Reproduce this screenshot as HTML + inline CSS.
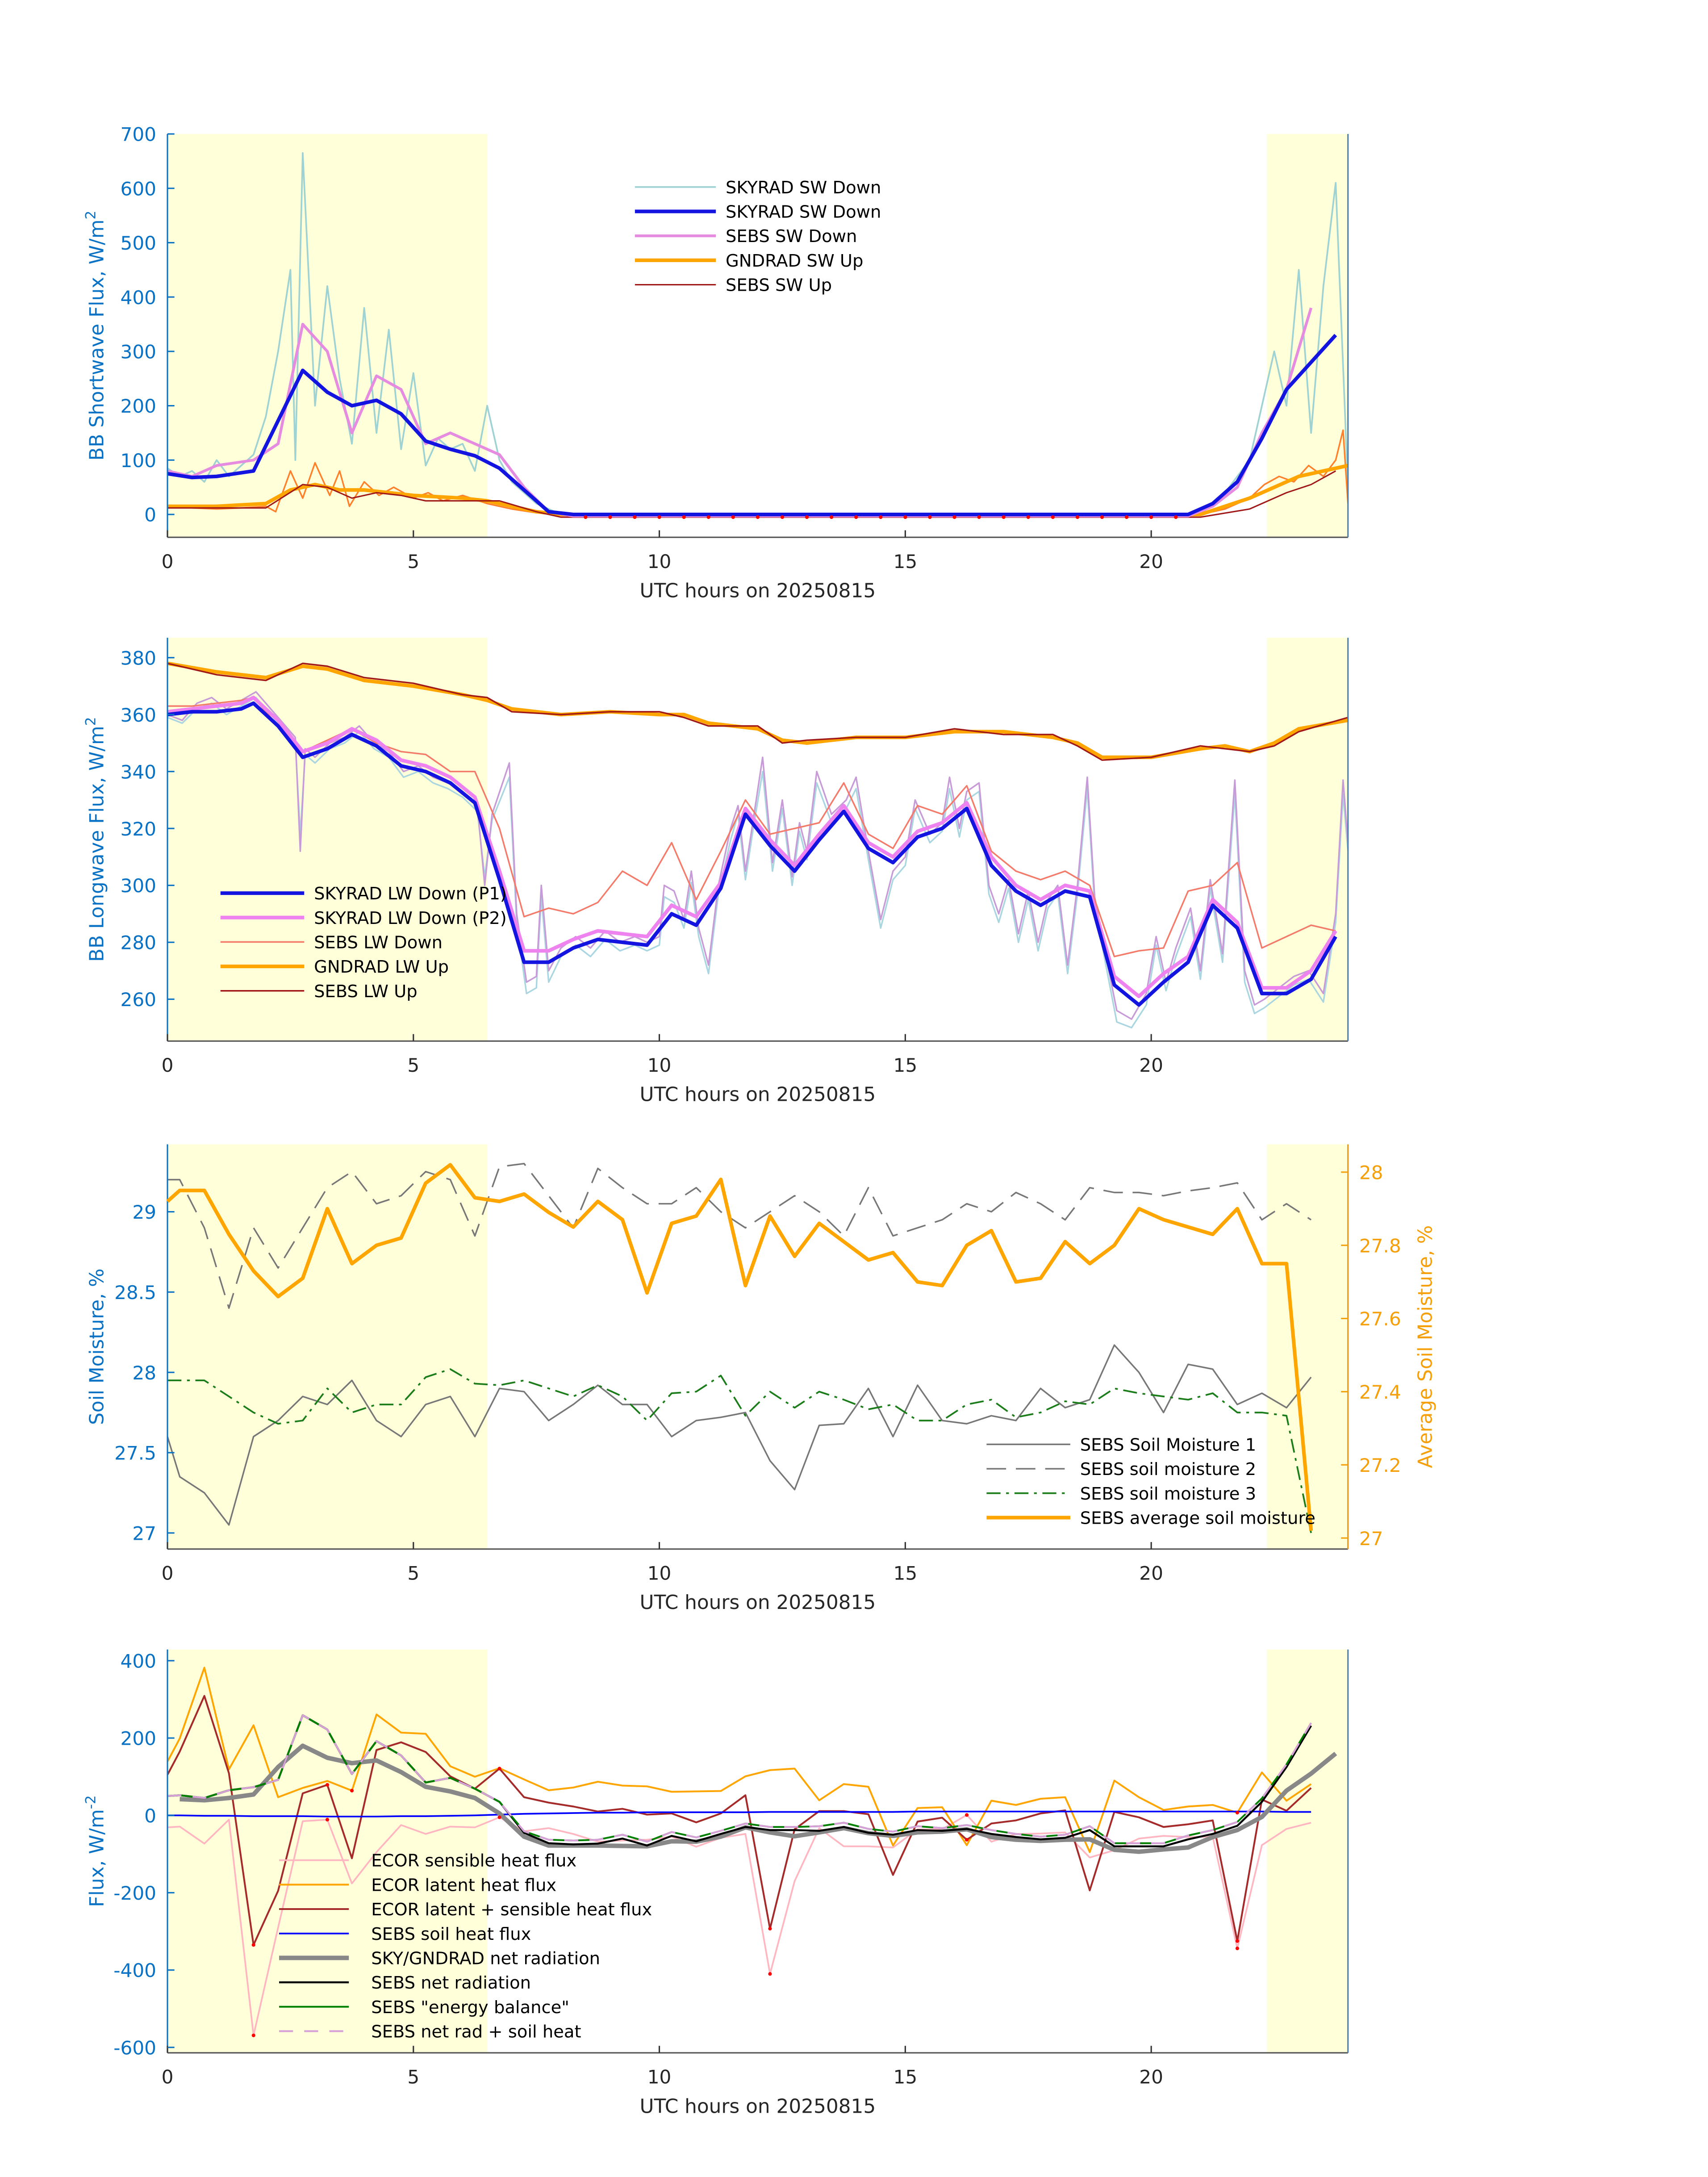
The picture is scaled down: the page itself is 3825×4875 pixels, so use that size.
<!DOCTYPE html>
<html><head><meta charset="utf-8"><style>
html,body{margin:0;padding:0;background:#fff;}
svg{display:block;font-family:"DejaVu Sans","Liberation Sans",sans-serif;}
</style></head><body>
<svg id="fig" width="3825" height="4875" viewBox="0 0 1224 1560" xmlns="http://www.w3.org/2000/svg"></svg>
<script>
// ---------- Panel 1 data (shortwave) ----------
const swLightT=[0,0.25,0.5,0.75,1,1.25,1.5,1.75,2,2.25,2.5,2.6,2.75,3,3.25,3.5,3.75,4,4.25,4.5,4.75,5,5.25,5.5,5.75,6,6.25,6.5,6.75,7,7.5,8,10,15,20,21,21.5,22,22.5,22.75,23,23.25,23.5,23.75,24];
const swLightV=[85,70,80,60,100,70,90,110,180,300,450,100,665,200,420,250,130,380,150,340,120,260,90,140,120,130,80,200,100,60,20,0,0,0,0,0,40,100,300,200,450,150,420,610,50];
const swBlueT=[0,0.5,1,1.75,2.75,3.25,3.75,4.25,4.75,5.25,5.75,6.25,6.75,7.25,7.75,8.25,10,15,20,20.75,21.25,21.75,22.25,22.75,23.25,23.75];
const swBlueV=[75,68,70,80,265,225,200,210,185,135,120,108,85,45,5,0,0,0,0,0,20,60,140,230,280,330];
const swPinkT=[0,0.5,1,1.75,2.25,2.75,3.25,3.75,4.25,4.75,5.25,5.75,6.25,6.75,7.25,7.75,8.25,10,15,20,20.75,21.25,21.75,22.25,22.75,23.25];
const swPinkV=[80,70,90,100,130,350,300,150,255,230,130,150,130,110,50,5,-3,-3,-3,-3,-3,15,50,150,230,380];
const swUpT=[0,1,2,2.5,3,3.5,4,5,6,6.5,7,7.5,8,10,15,20,21,22,23,24];
const swUpV=[15,15,20,45,55,45,45,35,30,25,15,5,0,0,0,0,0,30,70,90];
const swSebsUpT=[0,1,2,2.75,3.25,3.75,4.25,4.75,5.25,6,6.75,7.5,8,10,15,20,21,22,22.75,23.25,23.75];
const swSebsUpV=[12,12,12,55,50,30,40,35,25,25,25,5,-5,-5,-5,-5,-5,10,40,55,80];
const swNoisyT=[0,0.5,1,1.5,2,2.2,2.5,2.75,3,3.3,3.5,3.7,4,4.3,4.6,5,5.3,5.6,6,6.5,7,7.5,8,21,21.5,22,22.3,22.6,22.9,23.2,23.5,23.75,23.9,24];
const swNoisyV=[15,12,10,12,15,5,80,30,95,35,80,15,60,35,50,30,40,25,35,20,10,3,0,0,10,30,55,70,60,90,70,100,155,20];
// ---------- Panel 2 data (longwave) ----------
const lwT=[0,0.5,1,1.5,1.75,2.25,2.75,3.25,3.75,4.25,4.75,5.25,5.75,6.25,6.75,7.25,7.75,8.25,8.75,9.25,9.75,10.25,10.75,11.25,11.75,12.25,12.75,13.25,13.75,14.25,14.75,15.25,15.75,16.25,16.75,17.25,17.75,18.25,18.75,19.25,19.75,20.25,20.75,21.25,21.75,22.25,22.75,23.25,23.75];
const lwP1=[360,361,361,362,364,356,345,348,353,349,342,340,336,329,302,273,273,278,281,280,279,290,286,299,325,314,305,316,326,313,308,317,320,327,307,298,293,298,296,265,258,266,273,293,285,262,262,267,282];
const lwP2=[361,362,363,364,366,358,347,350,355,351,344,342,338,331,305,277,277,281,284,283,282,293,289,301,327,316,307,318,328,315,310,319,322,329,310,300,295,300,298,268,261,269,275,295,287,264,264,270,284];
const lwSebsDn=[363,363,364,365,366,356,347,351,355,350,347,346,340,340,320,289,292,290,294,305,300,315,295,312,330,318,320,322,336,318,313,328,325,335,312,305,302,305,300,275,277,278,298,300,308,278,282,286,284];
const lwUpT=[0,1,2,2.75,3.25,4,5,6,6.5,7,8,9,10,10.5,11,12,12.5,13,14,15,16,17,18,18.5,19,20,21,21.5,22,22.5,23,24];
const lwUpV=[378,375,373,377,376,372,370,367,365,362,360,361,360,360,357,355,351,350,352,352,354,354,352,350,345,345,348,349,347,350,355,358];
const lwSebsUpV=[378,374,372,378,377,373,371,367,366,361,360,361,361,359,356,356,350,351,352,352,355,353,353,349,344,345,349,348,347,349,354,359];
const lwNoisyT=[0,0.3,0.6,0.9,1.2,1.5,1.8,2.1,2.4,2.6,2.7,2.8,3,3.3,3.6,3.9,4.2,4.5,4.8,5.1,5.4,5.7,6,6.3,6.45,6.6,6.95,7.1,7.3,7.5,7.6,7.75,8,8.3,8.6,8.9,9.2,9.5,9.75,10,10.1,10.3,10.5,10.65,10.8,11,11.2,11.45,11.6,11.75,11.9,12.1,12.3,12.5,12.7,12.85,13,13.2,13.5,13.8,14,14.25,14.5,14.75,15,15.2,15.5,15.75,15.9,16.1,16.25,16.5,16.7,16.9,17.1,17.3,17.5,17.7,17.9,18.1,18.3,18.5,18.7,18.85,19,19.3,19.6,19.9,20.1,20.3,20.5,20.8,21,21.2,21.45,21.7,21.9,22.1,22.3,22.6,22.9,23.2,23.5,23.75,23.9,24];
const lwNoisyP=[360,358,364,366,362,365,368,362,356,352,312,348,345,350,352,356,350,347,340,342,338,336,333,328,300,325,343,290,266,268,300,270,278,282,278,284,280,282,280,282,300,298,288,305,285,272,300,320,328,305,322,345,308,330,303,322,312,340,325,330,338,312,288,305,310,330,318,322,338,320,333,336,300,290,302,283,298,280,295,300,272,300,338,296,282,256,253,262,282,266,278,292,270,302,276,337,270,258,260,264,268,270,262,290,337,315];
const lwNoisyB=[359,357,362,364,360,363,366,360,354,350,318,346,343,348,350,354,348,345,338,340,336,334,331,326,303,323,338,287,262,264,296,266,275,279,275,281,277,279,277,279,296,294,285,301,282,269,297,316,325,302,319,340,305,327,300,319,309,336,322,327,334,309,285,302,307,327,315,319,334,317,330,333,297,287,299,280,295,277,292,297,269,297,334,293,279,252,250,258,279,263,275,289,267,299,273,332,266,255,257,261,265,267,259,287,332,312];
// ---------- Panel 3 data (soil moisture) ----------
const smT=[0,0.25,0.75,1.25,1.75,2.25,2.75,3.25,3.75,4.25,4.75,5.25,5.75,6.25,6.75,7.25,7.75,8.25,8.75,9.25,9.75,10.25,10.75,11.25,11.75,12.25,12.75,13.25,13.75,14.25,14.75,15.25,15.75,16.25,16.75,17.25,17.75,18.25,18.75,19.25,19.75,20.25,20.75,21.25,21.75,22.25,22.75,23.25];
const sm1=[27.6,27.35,27.25,27.05,27.6,27.7,27.85,27.8,27.95,27.7,27.6,27.8,27.85,27.6,27.9,27.88,27.7,27.8,27.92,27.8,27.8,27.6,27.7,27.72,27.75,27.45,27.27,27.67,27.68,27.9,27.6,27.92,27.7,27.68,27.73,27.7,27.9,27.78,27.83,28.17,28.0,27.75,28.05,28.02,27.8,27.87,27.78,27.97];
const sm2=[29.2,29.2,28.9,28.4,28.9,28.65,28.9,29.15,29.25,29.05,29.1,29.25,29.2,28.85,29.28,29.3,29.1,28.9,29.27,29.15,29.05,29.05,29.15,29.0,28.9,29.0,29.1,29.0,28.85,29.15,28.85,28.9,28.95,29.05,29.0,29.12,29.05,28.95,29.15,29.12,29.12,29.1,29.13,29.15,29.18,28.95,29.05,28.95];
const sm3=[27.95,27.95,27.95,27.85,27.75,27.68,27.7,27.9,27.75,27.8,27.8,27.97,28.02,27.93,27.92,27.95,27.9,27.85,27.92,27.85,27.7,27.87,27.88,27.98,27.73,27.88,27.78,27.88,27.83,27.77,27.8,27.7,27.7,27.8,27.83,27.72,27.75,27.82,27.8,27.9,27.87,27.85,27.83,27.87,27.75,27.75,27.73,27.0];
const smAvg=[27.92,27.95,27.95,27.83,27.73,27.66,27.71,27.9,27.75,27.8,27.82,27.97,28.02,27.93,27.92,27.94,27.89,27.85,27.92,27.87,27.67,27.86,27.88,27.98,27.69,27.88,27.77,27.86,27.81,27.76,27.78,27.7,27.69,27.8,27.84,27.7,27.71,27.81,27.75,27.8,27.9,27.87,27.85,27.83,27.9,27.75,27.75,27.02];
// ---------- Panel 4 data (fluxes) ----------
const fxT=[0,0.25,0.75,1.25,1.75,2.25,2.75,3.25,3.75,4.25,4.75,5.25,5.75,6.25,6.75,7.25,7.75,8.25,8.75,9.25,9.75,10.25,10.75,11.25,11.75,12.25,12.75,13.25,13.75,14.25,14.75,15.25,15.75,16.25,16.75,17.25,17.75,18.25,18.75,19.25,19.75,20.25,20.75,21.25,21.75,22.25,22.75,23.25];
const fxLatent=[139,199,382,119,233,47,71,89,64,261,214,211,127,100,122,93,65,72,87,77,75,61,62,63,101,117,121,39,81,74,-78,19,21,-77,38,27,43,47,-95,90,47,14,23,27,7,111,38,81];
const fxSum=[105,165,309,109,-335,-195,57,79,-111,169,189,164,101,69,121,47,33,23,10,17,2,5,-18,5,52,-293,-36,11,11,3,-154,-16,-6,-63,-21,-13,5,13,-194,9,-5,-30,-23,-13,-325,41,12,71];
const fxSensible=[-31,-29,-73,-11,-569,-290,-15,-11,-176,-95,-25,-48,-29,-31,-5,-41,-33,-48,-68,-65,-63,-55,-81,-58,-48,-410,-170,-33,-80,-80,-83,-36,-36,1,-68,-48,-47,-44,-109,-90,-60,-53,-56,-55,-344,-77,-35,-19];
const fxSoil=[0,0,-1,-1,-2,-2,-2,-3,-3,-3,-2,-2,-1,0,2,4,5,6,7,7,8,8,8,8,8,9,9,9,9,9,9,10,10,10,10,10,10,10,10,10,10,10,10,10,10,10,9,9];
const fxEnergy=[50,52,45,65,73,92,259,222,107,192,155,85,97,69,35,-41,-63,-65,-63,-50,-68,-43,-57,-40,-21,-30,-30,-28,-19,-35,-42,-28,-33,-25,-38,-48,-55,-50,-28,-72,-72,-72,-52,-38,-17,44,132,239];
const fxNetRad=[50,52,45,65,73,92,259,222,107,192,155,85,97,69,35,-45,-72,-75,-73,-60,-78,-53,-67,-48,-30,-38,-38,-40,-30,-45,-50,-38,-40,-35,-48,-56,-62,-58,-38,-80,-80,-80,-62,-48,-27,35,125,232];
const fxNetSoil=[50,52,45,65,73,92,259,222,107,192,155,85,97,69,35,-41,-63,-65,-63,-50,-68,-43,-57,-40,-21,-30,-30,-28,-19,-35,-42,-28,-33,-25,-38,-48,-55,-50,-28,-72,-72,-72,-52,-38,-17,44,132,239];
const fxGrayT=[0.25,0.75,1.25,1.75,2.25,2.75,3.25,3.75,4.25,4.75,5.25,5.75,6.25,6.75,7.25,7.75,8.25,8.75,9.25,9.75,10.25,10.75,11.25,11.75,12.25,12.75,13.25,13.75,14.25,14.75,15.25,15.75,16.25,16.75,17.25,17.75,18.25,18.75,19.25,19.75,20.25,20.75,21.25,21.75,22.25,22.75,23.25,23.75];
const fxGray=[42,39,45,54,125,180,149,135,142,112,74,62,45,5,-55,-78,-78,-78,-79,-80,-67,-68,-55,-31,-44,-54,-44,-33,-46,-53,-44,-42,-36,-56,-63,-66,-63,-62,-89,-94,-88,-83,-56,-38,-4,64,108,160];
const xTicks=[0,5,10,15,20];
const shadeStart=[0,22.35];
const shadeEnd=[6.5,24];

const NS="http://www.w3.org/2000/svg";
const svg=document.getElementById('fig');
function mk(tag,attrs,parent){const e=document.createElementNS(NS,tag);for(const k in attrs)e.setAttribute(k,attrs[k]);(parent||svg).appendChild(e);return e;}
const X0=120,X1=966;
function xs(t){return X0+(t/24)*(X1-X0);}
function makeY(top,bot,mn,mx){return v=>bot-(v-mn)/(mx-mn)*(bot-top);}
let clipN=0;
function panel(name,top,bot,ys,ticks,fmt,ylabel,ycolor){
  const g=mk('g',{});
  
  
  for(let i=0;i<shadeStart.length;i++){
    const r=mk('rect',{x:xs(shadeStart[i]),y:top,width:xs(shadeEnd[i])-xs(shadeStart[i]),height:bot-top,fill:'#ffffd9'},g);
    
    
  }
  clipN++;
  const cp=mk('clipPath',{id:'c'+clipN},g);
  mk('rect',{x:X0,y:top,width:X1-X0,height:bot-top},cp);
  const plot=mk('g',{'clip-path':'url(#c'+clipN+')'},g);
  
  
  const ax=mk('g',{},g);
  
  
  mk('line',{x1:X0,y1:bot,x2:X1,y2:bot,stroke:'#555','stroke-width':1},ax);
  mk('line',{x1:X0,y1:top,x2:X0,y2:bot,stroke:ycolor,'stroke-width':1},ax);
  mk('line',{x1:X1,y1:top,x2:X1,y2:bot,stroke:'#4a7fb0','stroke-width':1},ax);
  xTicks.forEach(t=>{
    mk('line',{x1:xs(t),y1:bot,x2:xs(t),y2:bot-5,stroke:'#333'},ax);
    const tx=mk('text',{x:xs(t),y:bot+22,'font-size':13.5,'text-anchor':'middle',fill:'#262626'},ax);
    tx.textContent=t;
    
    
  });
  ticks.forEach(v=>{
    const y=ys(v);
    mk('line',{x1:X0,y1:y,x2:X0+5,y2:y,stroke:ycolor},ax);
    const tx=mk('text',{x:X0-8,y:y+5,'font-size':13.5,'text-anchor':'end',fill:ycolor},ax);
    tx.textContent=fmt(v);
    
    
  });
  const xl=mk('text',{x:(X0+X1)/2,y:bot+43,'font-size':14,'text-anchor':'middle',fill:'#262626'},g);
  xl.textContent='UTC hours on 20250815';
  
  
  const cy=(top+bot)/2;
  const yl=mk('text',{x:0,y:0,'font-size':14,'text-anchor':'middle',fill:ycolor,transform:`translate(${X0-46},${cy}) rotate(-90)`},g);
  yl.innerHTML=ylabel;
  
  
  return plot;
}
function line(parent,T,V,ys,style,name){
  const pts=T.map((t,i)=>xs(t).toFixed(2)+','+ys(V[i]).toFixed(2)).join(' ');
  const p=mk('polyline',Object.assign({points:pts,fill:'none','stroke-linejoin':'round'},style),parent);
  
  
  return p;
}
function legend(x,y0,dy,entries,lw,gap){
  const g=mk('g',{});
  
  
  entries.forEach((e,i)=>{
    const y=y0+i*dy;
    mk('line',Object.assign({x1:x,y1:y,x2:x+lw,y2:y},e.s),g);
    const t=mk('text',{x:x+lw+gap,y:y+4.5,'font-size':12.3,fill:'#000'},g);
    t.textContent=e.l;
    
    
  });
}
function dots(parent,T,V,ys,name){
  T.forEach((t,i)=>{
    const c=mk('circle',{cx:xs(t),cy:ys(V[i]),r:1.3,fill:'red'},parent);
    
    
  });
}
const BLUEAX='#0a72c4';
// ---------- Panel 1 ----------
{
  const ys=makeY(96,385,-42,700);
  const p=panel('shortwave-panel',96,385,ys,[0,100,200,300,400,500,600,700],v=>v,'BB Shortwave Flux, W/m<tspan baseline-shift="super" font-size="10">2</tspan>',BLUEAX);
  const sL={stroke:'#9fd3d3','stroke-width':1.2}, sB={stroke:'#1414e0','stroke-width':2.6}, sP={stroke:'#e58be0','stroke-width':2}, sO={stroke:'#ffa500','stroke-width':2.6}, sR={stroke:'#a01818','stroke-width':1}, sN={stroke:'#ff7f2a','stroke-width':1.1};
  line(p,swLightT,swLightV,ys,sL,'skyrad-sw-down-hires');
  line(p,swNoisyT,swNoisyV,ys,sN,'sebs-sw-up-hires');
  line(p,swUpT,swUpV,ys,sO,'gndrad-sw-up');
  line(p,swSebsUpT,swSebsUpV,ys,sR,'sebs-sw-up');
  line(p,swPinkT,swPinkV,ys,sP,'sebs-sw-down');
  line(p,swBlueT,swBlueV,ys,sB,'skyrad-sw-down');
  const dT=[8.5,9,9.5,10,10.5,11,11.5,12,12.5,13,13.5,14,14.5,15,15.5,16,16.5,17,17.5,18,18.5,19,19.5,20,20.5];
  const dV=dT.map(()=>-5);
  dots(p,dT,dV,ys,'missing-marker');
  legend(455,134,17.5,[{l:'SKYRAD SW Down',s:sL},{l:'SKYRAD SW Down',s:sB},{l:'SEBS SW Down',s:sP},{l:'GNDRAD SW Up',s:sO},{l:'SEBS SW Up',s:sR}],58,7);
}
// ---------- Panel 2 ----------
{
  const ys=makeY(457,746,245.3,387);
  const p=panel('longwave-panel',457,746,ys,[260,280,300,320,340,360,380],v=>v,'BB Longwave Flux, W/m<tspan baseline-shift="super" font-size="10">2</tspan>',BLUEAX);
  const sB={stroke:'#1414e0','stroke-width':2.6}, sP={stroke:'#ee82ee','stroke-width':2.6}, sC={stroke:'#f47a6a','stroke-width':1.1}, sO={stroke:'#ffa500','stroke-width':2.6}, sR={stroke:'#a01818','stroke-width':1.1};
  line(p,lwNoisyT,lwNoisyB,ys,{stroke:'#a9d6e0','stroke-width':1.1},'skyrad-lw-down-hires-p1');
  line(p,lwNoisyT,lwNoisyP,ys,{stroke:'#c79ad8','stroke-width':1.1},'skyrad-lw-down-hires-p2');
  line(p,lwT,lwSebsDn,ys,sC,'sebs-lw-down');
  line(p,lwUpT,lwUpV,ys,sO,'gndrad-lw-up');
  line(p,lwUpT,lwSebsUpV,ys,sR,'sebs-lw-up');
  line(p,lwT,lwP2,ys,sP,'skyrad-lw-down-p2');
  line(p,lwT,lwP1,ys,sB,'skyrad-lw-down-p1');
  legend(158,640,17.5,[{l:'SKYRAD LW Down (P1)',s:sB},{l:'SKYRAD LW Down (P2)',s:sP},{l:'SEBS LW Down',s:sC},{l:'GNDRAD LW Up',s:sO},{l:'SEBS LW Up',s:sR}],60,7);
}
// ---------- Panel 3 ----------
{
  const ys=makeY(820,1110,26.9,29.42);
  const yr=makeY(820,1110,26.97,28.076);
  const p=panel('soil-moisture-panel',820,1110,ys,[27,27.5,28,28.5,29],v=>v,'Soil Moisture, %',BLUEAX);
  const OR='#f5a00a';
  const ax=mk('g',{});
  
  
  mk('line',{x1:X1,y1:820,x2:X1,y2:1110,stroke:OR},ax);
  [27,27.2,27.4,27.6,27.8,28].forEach(v=>{
    mk('line',{x1:X1-5,y1:yr(v),x2:X1,y2:yr(v),stroke:OR},ax);
    const t=mk('text',{x:X1+8,y:yr(v)+5,'font-size':13.5,fill:OR},ax);
    t.textContent=(v===27||v===28)?v:v.toFixed(1);
    
    
  });
  const rl=mk('text',{x:0,y:0,'font-size':14,'text-anchor':'middle',fill:OR,transform:`translate(1026,965) rotate(-90)`},ax);
  rl.textContent='Average Soil Moisture, %';
  
  
  const s1={stroke:'#777','stroke-width':1.1}, s2={stroke:'#777','stroke-width':1.1,'stroke-dasharray':'14 7'}, s3={stroke:'#1a7d1a','stroke-width':1.2,'stroke-dasharray':'10 4 2 4'}, s4={stroke:'#ffa500','stroke-width':2.6};
  line(p,smT,sm1,ys,s1,'sebs-soil-moisture-1');
  line(p,smT,sm2,ys,s2,'sebs-soil-moisture-2');
  line(p,smT,sm3,ys,s3,'sebs-soil-moisture-3');
  line(svg,smT,smAvg,yr,s4,'sebs-average-soil-moisture');
  legend(707,1035,17.5,[{l:'SEBS Soil Moisture 1',s:s1},{l:'SEBS soil moisture 2',s:s2},{l:'SEBS soil moisture 3',s:s3},{l:'SEBS average soil moisture',s:s4}],60,7);
}
// ---------- Panel 4 ----------
{
  const ys=makeY(1182,1471,-614,429);
  const p=panel('flux-panel',1182,1471,ys,[-600,-400,-200,0,200,400],v=>v,'Flux, W/m<tspan baseline-shift="super" font-size="10">-2</tspan>',BLUEAX);
  const sS={stroke:'#ffb6c1','stroke-width':1.2}, sL={stroke:'#ffa500','stroke-width':1.3}, sM={stroke:'#a52a2a','stroke-width':1.3}, sSoil={stroke:'#0000ff','stroke-width':1.2}, sG={stroke:'#888','stroke-width':3.2}, sK={stroke:'#000','stroke-width':1.4}, sE={stroke:'#008000','stroke-width':1.3}, sD={stroke:'#d8a0d8','stroke-width':1.3,'stroke-dasharray':'10 8'};
  line(p,fxT,fxSensible,ys,sS,'ecor-sensible-heat-flux');
  line(p,fxT,fxLatent,ys,sL,'ecor-latent-heat-flux');
  line(p,fxT,fxSum,ys,sM,'ecor-latent-plus-sensible');
  line(p,fxT,fxSoil,ys,sSoil,'sebs-soil-heat-flux');
  line(p,fxGrayT,fxGray,ys,sG,'sky-gndrad-net-radiation');
  line(p,fxT,fxNetRad,ys,sK,'sebs-net-radiation');
  line(p,fxT,fxEnergy,ys,sE,'sebs-energy-balance');
  line(p,fxT,fxNetSoil,ys,sD,'sebs-net-rad-plus-soil-heat');
  const rT=[1.75,1.75,3.25,3.25,3.75,6.75,6.75,12.25,12.25,16.25,16.25,21.75,21.75,21.75];
  const rV=[-569,-335,79,-11,64,121,-5,-410,-293,1,-63,-344,-325,7];
  dots(p,rT,rV,ys,'flag-marker');
  legend(200,1333,17.5,[{l:'ECOR sensible heat flux',s:sS},{l:'ECOR latent heat flux',s:sL},{l:'ECOR latent + sensible heat flux',s:sM},{l:'SEBS soil heat flux',s:sSoil},{l:'SKY/GNDRAD net radiation',s:sG},{l:'SEBS net radiation',s:sK},{l:'SEBS "energy balance"',s:sE},{l:'SEBS net rad + soil heat',s:sD}],50,16);
}
</script>
</body></html>
